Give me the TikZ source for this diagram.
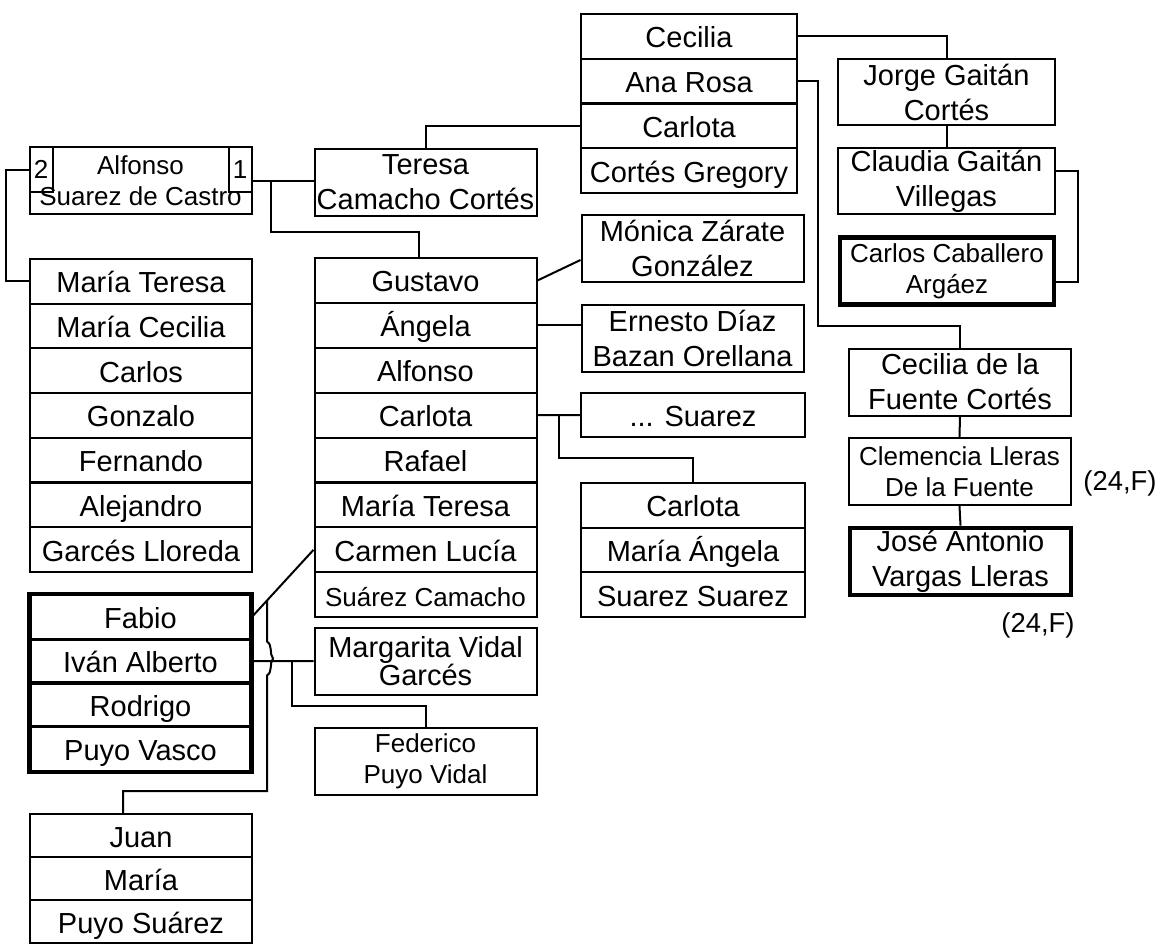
\documentclass[tikz,border=0pt]{standalone}
\usepackage{fontspec}
\setmainfont{Liberation Sans}
\usetikzlibrary{calc}
\newcommand{\bigtxt}{\fontsize{14.5}{17.5}\selectfont}
\newcommand{\smalltxt}{\fontsize{13}{15.5}\selectfont}
\begin{document}
\begin{tikzpicture}
[x=0.5pt,y=-0.5pt,%
  cellDecorate/.style={draw,line width=1pt,inner sep=1pt,align=center,
    minimum width=111pt,minimum height=22.4pt,font=\bigtxt},
  rowDecorate/.style={cellDecorate,text height=13pt,text depth=1.5pt},
  pairDecorate/.style={cellDecorate,minimum height=33.5pt},
  smallDecorate/.style={font=\smalltxt},
  thickDecorate/.style={draw,line width=2.4pt},
  labelDecorate/.style={inner sep=0pt,font=\fontsize{13.7}{16}\selectfont},
  lineDecorate/.style={line width=1pt}]
\useasboundingbox (0,0) rectangle (1162,944);
%% Alfonso and his two marriages
\node (alf) at (140.5,180.5) [cellDecorate,minimum height=33.5pt,smallDecorate] {Alfonso\\Suarez de Castro};
\node (alfL) at (alf.north west) [anchor=north west,cellDecorate,inner sep=0pt,
  minimum width=11.5pt,minimum height=22.5pt,smallDecorate] {2};
\node (alfR) at (alf.north east) [anchor=north east,cellDecorate,inner sep=0pt,
  minimum width=11.5pt,minimum height=22.5pt,smallDecorate] {1};
\node (ter) at (425.5,182) [pairDecorate] {Teresa\\Camacho Cortés};
%% first family
\foreach \txt [count=\i] in {María Teresa, María Cecilia, Carlos, Gonzalo,
  Fernando, Alejandro, Garcés Lloreda}
{
  \node (mt\i) at (141,{259+44.7*(\i-0.5)}) [rowDecorate] {\txt};
}
%% second family
\foreach \txt [count=\i] in {Gustavo, Ángela, Alfonso, Carlota, Rafael,
  María Teresa, Carmen Lucía}
{
  \node (gus\i) at (425.5,{258+44.9*(\i-0.5)}) [rowDecorate] {\txt};
}
\node (gus8) at (425.5,{258+44.9*7.5}) [rowDecorate,smallDecorate] {Suárez Camacho};
%% Teresa's parents and the Gaitán line
\foreach \txt [count=\i] in {Cecilia, Ana Rosa, Carlota, Cortés Gregory}
{
  \node (top\i) at (689,{14+44.75*(\i-0.5)}) [rowDecorate,minimum width=108pt] {\txt};
}
\node (jor) at (946.5,92) [pairDecorate,minimum width=108.5pt,minimum height=33pt] {Jorge Gaitán\\Cortés};
\node (cla) at (946.5,181) [pairDecorate,minimum width=108.5pt,minimum height=33pt] {Claudia Gaitán\\Villegas};
\node (car) at (947,271) [pairDecorate,minimum width=107pt,line width=2.2pt,smallDecorate] {Carlos Caballero\\Argáez};
\node (cfc) at (960,382) [pairDecorate] {Cecilia de la\\Fuente Cortés};
\node (cle) at (959.5,471.5) [pairDecorate,smallDecorate] {Clemencia Lleras\\De la Fuente};
\node (jos) at (960.5,561.5) [pairDecorate,minimum width=110.5pt,line width=2.4pt] {José Antonio\\Vargas Lleras};
\node (lab1) at (1120,483) [labelDecorate] {(24,F)};
\node (lab2) at (1038,625) [labelDecorate] {(24,F)};
%% spouses and children of the second family
\node (mon) at (692.5,248.5) [pairDecorate] {Mónica Zárate\\González};
\node (ern) at (692.5,338) [pairDecorate] {Ernesto Díaz\\Bazan Orellana};
\node (sua) at (693,415) [rowDecorate,minimum width=112pt,minimum height=22pt] {... Suarez};
\foreach \txt [count=\i] in {Carlota, María Ángela, Suarez Suarez}
{
  \node (cms\i) at (693,{483+44.7*(\i-0.5)}) [rowDecorate,minimum width=112pt] {\txt};
}
\foreach \txt [count=\i] in {Fabio, Iván Alberto, Rodrigo, Puyo Vasco}
{
  \node (fab\i) at (140.5,{595.5+43.75*(\i-0.5)}) [rowDecorate,minimum width=110pt] {\txt};
}
\draw[thickDecorate] (fab1.north west) rectangle (fab4.south east);
\node (mar) at (425.5,661) [pairDecorate,font=\fontsize{14.5}{14}\selectfont] {Margarita Vidal\\Garcés};
\node (fed) at (425.5,761.5) [pairDecorate,smallDecorate] {Federico\\Puyo Vidal};
\foreach \txt [count=\i] in {Juan, María, Puyo Suárez}
{
  \node (jua\i) at (141,{814+43*(\i-0.5)}) [rowDecorate,minimum height=21.5pt] {\txt};
}
%% edges or lines
\draw[lineDecorate] (alfL.west) -| ([xshift=-11.5pt]mt1.west) -- (mt1.west);
\draw[lineDecorate] (alf.east) -- (ter.west |- alf.east);
\coordinate (jAlf) at ($(alf.east)!0.3!(ter.west |- alf.east)$);
\draw[lineDecorate] (jAlf) |- ([xshift=-3.5pt,yshift=12.5pt]gus1.north) -- ([xshift=-3.5pt]gus1.north);
\draw[lineDecorate] (ter.north) |- (top3.west);
\draw[lineDecorate] (top1.east) -| (jor.north);
\draw[lineDecorate] (jor.south) -- (cla.north);
\draw[lineDecorate] ([yshift=5pt]cla.east) -- ++(22,0) |- ([yshift=-5.5pt]car.east);
\draw[lineDecorate] (top2.east) -- ++(20,0) |- ([yshift=11pt]cfc.north) -- (cfc.north);
\draw[lineDecorate] (cfc.south) -- (cle.north);
\draw[lineDecorate] (cle.south) -- (jos.north);
\draw[lineDecorate] (gus1.east) -- ([yshift=-5.75pt]mon.west);
\draw[lineDecorate] (gus2.east) -- (gus2.east -| ern.west);
\draw[lineDecorate] (gus4.east) -- (sua.west);
\coordinate (jCar) at ($(gus4.east)!0.5!(sua.west)$);
\draw[lineDecorate] (jCar) |- ([yshift=12pt]cms1.north) -- (cms1.north);
\draw[lineDecorate] (gus7.west) -- (fab1.east);
\coordinate (jCarmen) at ($(gus7.west)!0.75!(fab1.east)$);
\draw[lineDecorate] (fab2.east) -- (mar.west);
\coordinate (jFab) at ($(fab2.east)!0.65!(mar.west)$);
\draw[lineDecorate] (jFab) |- ([yshift=10.5pt]fed.north) -- (fed.north);
%% line hopping over the Fabio - Margarita line
\coordinate (hopA) at ($(jCarmen)+(0,41)$);
\coordinate (hopB) at ($(hopA)+(0,34)$);
\draw[lineDecorate] (jCarmen) -- (hopA)
  .. controls ($(hopA)+(6,4)$) and ($(hopA)+(2,12)$) .. ($(hopA)+(6,17)$)
  .. controls ($(hopA)+(2,22)$) and ($(hopA)+(6,30)$) .. (hopB)
  |- ([xshift=-9pt,yshift=11pt]jua1.north) -- ([xshift=-9pt]jua1.north);
\end{tikzpicture}
\end{document}
